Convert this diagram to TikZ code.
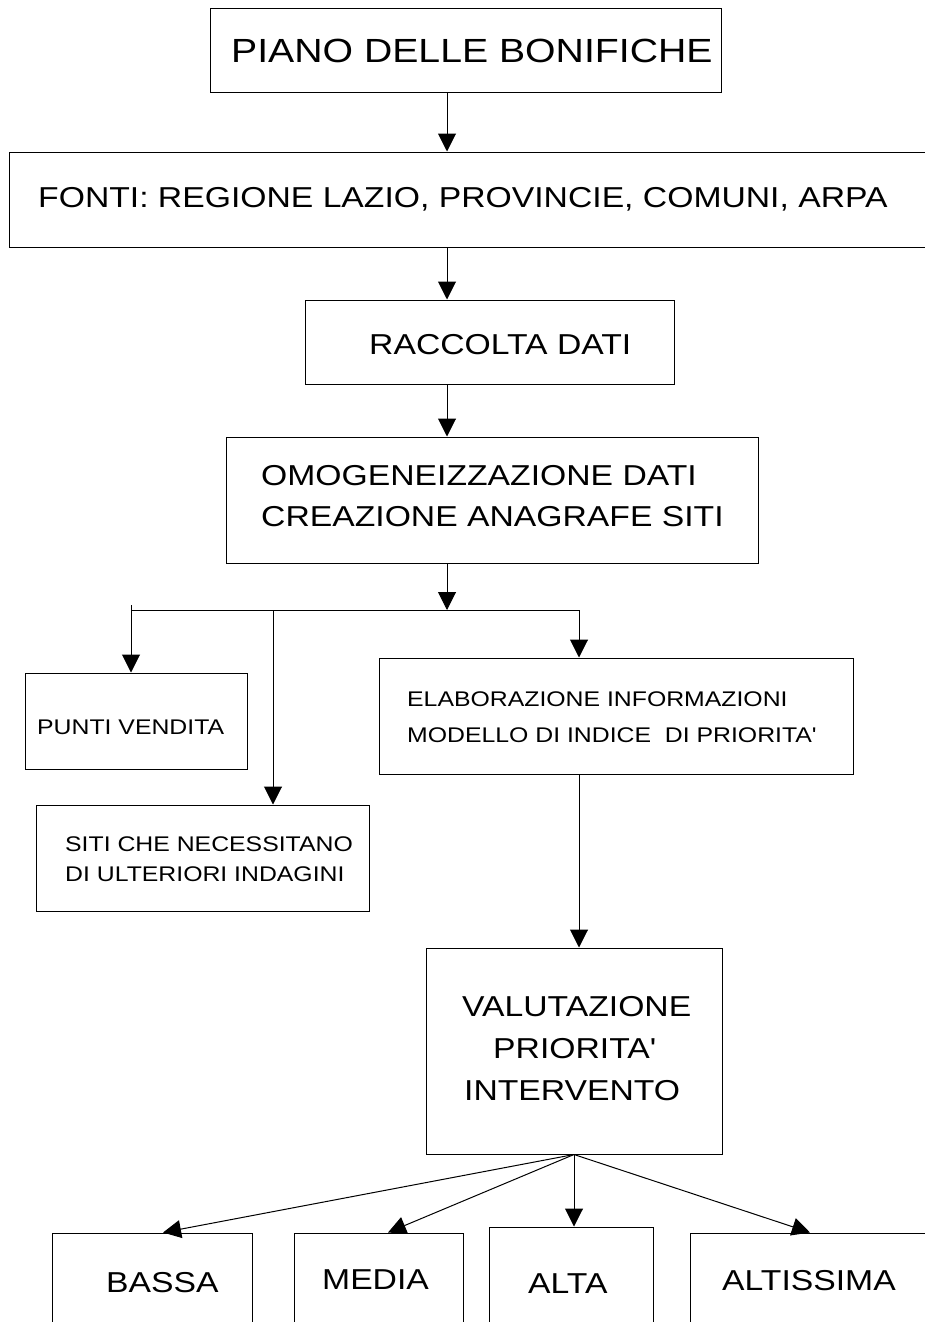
\documentclass[tikz,border=0pt]{standalone}
\usepackage{fontspec}
\setmainfont{Liberation Sans}[FakeStretch=1.17]
\usetikzlibrary{arrows.meta}

\begin{document}
\begin{tikzpicture}[x=1pt,y=-1pt,
  box/.style={draw, line width=1pt, rectangle, inner sep=0pt},
  lbl/.style={anchor=base west, inner sep=0pt, font=\fontsize{28.8}{34}\selectfont},
  lblbig/.style={lbl, font=\fontsize{33.5}{40}\selectfont},
  lblsmall/.style={lbl, font=\fontsize{21.2}{25}\selectfont},
  arr/.style={draw, line width=1pt, -{Triangle[length=18pt,width=18pt]}},
  wire/.style={draw, line width=1pt}]
\useasboundingbox (0,0) rectangle (925,1322);
\clip (0,0) rectangle (925,1322);

% boxes
\node[box, minimum width=511, minimum height=83]  (b1)     at (465.5,50.5) {};
\node[box, minimum width=941, minimum height=95]  (b2)     at (479.5,199.5) {};
\node[box, minimum width=369, minimum height=84]  (b3)     at (489.5,342) {};
\node[box, minimum width=532, minimum height=126] (b4)     at (492,500) {};
\node[box, minimum width=222, minimum height=96]  (punti)  at (136,721) {};
\node[box, minimum width=333, minimum height=106] (siti)   at (202.5,858) {};
\node[box, minimum width=474, minimum height=116] (elab)   at (616,716) {};
\node[box, minimum width=296, minimum height=206] (valut)  at (574,1051) {};
\node[box, minimum width=200, minimum height=127] (bassa)  at (152,1296.5) {};
\node[box, minimum width=169, minimum height=127] (media)  at (378.5,1296.5) {};
\node[box, minimum width=164, minimum height=133] (alta)   at (571,1293.5) {};
\node[box, minimum width=260, minimum height=127] (altiss) at (820,1296.5) {};

% texts
\node[lblbig]   (t1)  at (231,63)   {PIANO DELLE BONIFICHE};
\node[lbl]      (t2)  at (38,207)   {FONTI: REGIONE LAZIO, PROVINCIE, COMUNI, ARPA};
\node[lbl]      (t3)  at (369,354)  {RACCOLTA DATI};
\node[lbl]      (t4a) at (261,485)  {OMOGENEIZZAZIONE DATI};
\node[lbl]      (t4b) at (261,526)  {CREAZIONE ANAGRAFE SITI};
\node[lblsmall] (t5)  at (37,734)   {PUNTI VENDITA};
\node[lblsmall] (t6a) at (65,851)   {SITI CHE NECESSITANO};
\node[lblsmall] (t6b) at (65,881)   {DI ULTERIORI INDAGINI};
\node[lblsmall] (t7a) at (407,706)  {ELABORAZIONE INFORMAZIONI};
\node[lblsmall] (t7b) at (407,742)  {MODELLO DI INDICE\ \ DI PRIORITA\textquotesingle};
\node[lbl]      (t8a) at (462,1016) {VALUTAZIONE};
\node[lbl]      (t8b) at (493,1058) {PRIORITA\textquotesingle};
\node[lbl]      (t8c) at (464,1100) {INTERVENTO};
\node[lbl]      (t9)  at (106,1292) {BASSA};
\node[lbl]      (t10) at (322,1289) {MEDIA};
\node[lbl]      (t11) at (528,1293) {ALTA};
\node[lbl]      (t12) at (722,1290) {ALTISSIMA};

% main column
\coordinate (col) at (447,0);
\draw[arr] (b1.south -| col) -- (b2.north -| col);
\draw[arr] (b2.south -| col) -- (b3.north -| col);
\draw[arr] (b3.south -| col) -- (b4.north -| col);

% distribution bar
\coordinate (jmid) at (447,610);
\coordinate (jl)   at (131,610);
\coordinate (jtop) at (131,605);
\coordinate (jb)   at (273,610);
\coordinate (jr)   at (579,610);
\draw[arr] (b4.south -| col) -- (jmid);
\draw[wire] (jl) -- (jr);
\draw[arr] (jtop) -- (punti.north -| jtop);
\draw[arr] (jb) -- (siti.north -| jb);
\draw[arr] (jr) -- (elab.north -| jr);
\draw[arr] (elab.south -| jr) -- (valut.north -| jr);

% priority levels
\draw[arr] (valut.south) -- ([xshift=11pt]bassa.north);
\draw[arr] (valut.south) -- ([xshift=9.5pt]media.north);
\draw[arr] (valut.south) -- (alta.north -| valut.south);
\draw[arr] (valut.south) -- ([xshift=-10pt]altiss.north);
\end{tikzpicture}
\end{document}
